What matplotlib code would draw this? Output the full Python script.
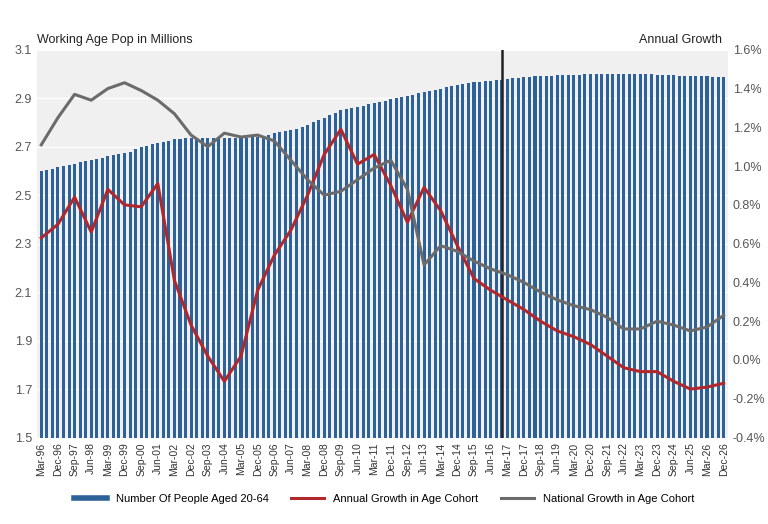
import matplotlib
matplotlib.use("Agg")
import matplotlib.pyplot as plt
import numpy as np
from matplotlib.lines import Line2D

plt.rcParams['font.family'] = ['Liberation Sans Narrow', 'Liberation Sans', 'DejaVu Sans']

tick_labels = []
months = ['Mar', 'Jun', 'Sep', 'Dec']
for i in range(0, 124, 3):
    y = 1996 + i // 4
    tick_labels.append(f"{months[i % 4]}-{y % 100:02d}")

population = [
    2.600, 2.605, 2.610, 2.615, 2.620, 2.625, 2.630, 2.635,
    2.640, 2.645, 2.650, 2.655, 2.660, 2.665, 2.670, 2.675,
    2.680, 2.690, 2.700, 2.705, 2.710, 2.715, 2.720, 2.725,
    2.730, 2.730, 2.735, 2.735, 2.735, 2.735, 2.735, 2.735,
    2.735, 2.735, 2.735, 2.735, 2.735, 2.735, 2.740, 2.740,
    2.745, 2.750, 2.755, 2.760, 2.765, 2.770, 2.775, 2.780,
    2.790, 2.800, 2.810, 2.820, 2.830, 2.840, 2.850, 2.855,
    2.860, 2.865, 2.870, 2.875, 2.880, 2.885, 2.890, 2.895,
    2.900, 2.905, 2.910, 2.915, 2.920, 2.925, 2.930, 2.935,
    2.940, 2.945, 2.950, 2.955, 2.960, 2.962, 2.965, 2.967,
    2.970, 2.972, 2.975, 2.977, 2.980, 2.982, 2.984, 2.986,
    2.988, 2.990, 2.991, 2.992, 2.993, 2.994, 2.995, 2.996,
    2.997, 2.997, 2.998, 2.998, 2.999, 2.999, 3.000, 3.000,
    3.000, 3.000, 3.000, 3.000, 3.000, 2.999, 2.998, 2.997,
    2.996, 2.995, 2.994, 2.993, 2.992, 2.991, 2.990, 2.990,
    2.990, 2.989, 2.988, 2.988,
]

# growth values (%) at each tick (every 3 quarters)
annual_growth = [0.63, 0.70, 0.84, 0.66, 0.88, 0.80, 0.79, 0.91, 0.41, 0.18,
                 0.02, -0.11, 0.02, 0.36, 0.54, 0.67, 0.85, 1.06, 1.19, 1.01,
                 1.06, 0.90, 0.71, 0.89, 0.77, 0.59, 0.42, 0.36, 0.31, 0.26,
                 0.20, 0.15, 0.12, 0.08, 0.02, -0.04, -0.06, -0.06, -0.11, -0.15,
                 -0.14, -0.12]
national_growth = [1.11, 1.25, 1.37, 1.34, 1.40, 1.43, 1.39, 1.34, 1.27, 1.16,
                   1.10, 1.17, 1.15, 1.16, 1.13, 1.03, 0.93, 0.85, 0.87, 0.93,
                   0.99, 1.03, 0.88, 0.49, 0.59, 0.56, 0.51, 0.47, 0.44, 0.40,
                   0.35, 0.31, 0.28, 0.26, 0.22, 0.16, 0.16, 0.20, 0.18,
                   0.15, 0.17, 0.23]

x = np.arange(len(population))
xt = np.arange(0, 124, 3)

fig = plt.figure(figsize=(7.68, 5.24), dpi=100)
ax = fig.add_axes([0.048, 0.165, 0.9, 0.74])
ax.set_facecolor('#f0f0f0')
ax.bar(x, np.array(population) - 1.5, bottom=1.5, width=0.55, color='#2d6199',
       label='Number Of People Aged 20-64', zorder=2)
ax.set_ylim(1.5, 3.1)
ax.set_yticks(np.arange(1.5, 3.11, 0.2))
ax.set_yticklabels([f"{v:.1f}" for v in np.arange(1.5, 3.11, 0.2)])
ax.grid(axis='y', color='white', lw=1, zorder=1)
ax.set_axisbelow(True)
ax.set_xlim(-0.8, 123.8)
ax.set_xticks(xt)
ax.set_xticklabels(tick_labels, rotation=90, fontsize=7.5, color='#333333')
ax.tick_params(axis='y', labelsize=9, colors='#555555', length=0)
ax.tick_params(axis='x', length=0)
for s in ax.spines.values():
    s.set_visible(False)
ax.axvline(83, color='#222222', lw=1.8, zorder=4)

ax2 = ax.twinx()
ax2.plot(xt, annual_growth, color='#b0282c', lw=2.2, label='Annual Growth in Age Cohort', zorder=5)
ax2.plot(xt, national_growth, color='#6b6b6b', lw=2.2, label='National Growth in Age Cohort', zorder=5)
ax2.set_ylim(-0.4, 1.6)
ax2.set_yticks(np.arange(-0.4, 1.61, 0.2))
ax2.set_yticklabels([f"{v:.1f}%" for v in np.arange(-0.4, 1.61, 0.2)])
ax2.tick_params(axis='y', labelsize=9, colors='#555555', length=0)
for s in ax2.spines.values():
    s.set_visible(False)

fig.text(0.048, 0.918, 'Working Age Pop in Millions', fontsize=9, color='#222222')
fig.text(0.94, 0.918, 'Annual Growth', fontsize=9, color='#222222', ha='right')

h2, l2 = ax2.get_legend_handles_labels()
hb = Line2D([], [], color='#2d6199', lw=4)
fig.legend([hb] + h2, ['Number Of People Aged 20-64'] + l2, loc='lower center',
           bbox_to_anchor=(0.5, 0.02), ncol=3, frameon=False, fontsize=8,
           handlelength=3, columnspacing=2)

fig.savefig('out.png', dpi=100)
